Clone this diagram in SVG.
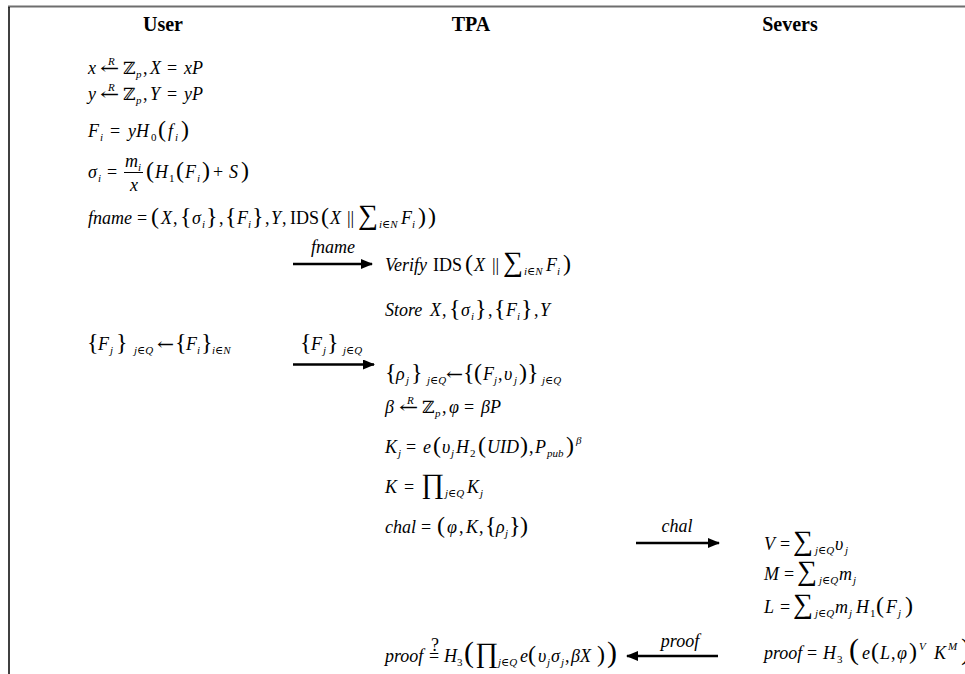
<svg xmlns="http://www.w3.org/2000/svg" width="965" height="674" viewBox="0 0 965 674">
<style>
text{font-family:"Liberation Serif","Times New Roman","DejaVu Serif",serif;font-size:18px;fill:#000}
.h{font-weight:bold;font-size:20px;text-anchor:middle}
.i{font-style:italic}
.sb{font-size:11px;baseline-shift:-4px}
.sp{font-size:11px;baseline-shift:9px}
.P{font-size:24px}
.PP{font-size:30px}
.S{font-size:28px}
.ar{font-family:"DejaVu Serif",serif;font-size:17px}
.z{font-family:"DejaVu Serif",serif;font-size:17px}
.lbl{font-style:italic;text-anchor:middle}
.arr{stroke:#000;stroke-width:2.5;fill:none}
</style>
<defs>
<marker id="ah" markerUnits="userSpaceOnUse" markerWidth="12" markerHeight="10" refX="11" refY="5" orient="auto">
<path d="M0,0 L12,5 L0,10 Z" fill="#000"/>
</marker>
</defs>
<rect width="965" height="674" fill="#fff"/>
<g id="frame">
<line x1="8" y1="6.5" x2="965" y2="6.5" stroke="#6e6e6e" stroke-width="2"/>
<line x1="9" y1="7" x2="9" y2="674" stroke="#000" stroke-width="1.5"/>
</g>
<g id="headers">
<text class="h" x="163" y="31">User</text>
<text class="h" x="471" y="31">TPA</text>
<text class="h" x="790" y="31">Severs</text>
</g>
<g id="user">
<text y="74"><tspan class="i" x="88">x</tspan><tspan class="sp i" x="108">R</tspan><tspan class="z" x="123">ℤ</tspan><tspan class="sb i" x="136">p</tspan><tspan x="143">,</tspan><tspan class="i" x="150">X</tspan><tspan x="167">=</tspan><tspan class="i" x="184">xP</tspan></text>
<text class="ar" transform="translate(100,74) scale(1.35,1)">←</text>
<text y="100"><tspan class="i" x="88">y</tspan><tspan class="sp i" x="108">R</tspan><tspan class="z" x="123">ℤ</tspan><tspan class="sb i" x="136">p</tspan><tspan x="143">,</tspan><tspan class="i" x="150">Y</tspan><tspan x="167">=</tspan><tspan class="i" x="184">yP</tspan></text>
<text class="ar" transform="translate(100,100) scale(1.35,1)">←</text>
<text y="137"><tspan class="i" x="88">F</tspan><tspan class="sb i" x="100">i</tspan><tspan x="110">=</tspan><tspan class="i" x="128">yH</tspan><tspan class="sb" x="151">0</tspan><tspan class="P" x="158">(</tspan><tspan class="i" x="168">f</tspan><tspan class="sb i" x="175">i</tspan><tspan class="P" x="181">)</tspan></text>
<text y="178"><tspan class="i" x="88">σ</tspan><tspan class="sb i" x="98">i</tspan><tspan x="107">=</tspan></text>
<text y="167"><tspan class="i" x="125">m</tspan><tspan class="sb i" x="138">i</tspan></text>
<line x1="124" y1="172.5" x2="143" y2="172.5" stroke="#000" stroke-width="1"/>
<text y="191" x="130" class="i">x</text>
<text y="178"><tspan class="P" x="146">(</tspan><tspan class="i" x="155">H</tspan><tspan class="sb" x="169">1</tspan><tspan class="P" x="176">(</tspan><tspan class="i" x="185">F</tspan><tspan class="sb i" x="197">i</tspan><tspan class="P" x="202">)</tspan><tspan x="213">+</tspan><tspan class="i" x="229">S</tspan><tspan class="P" x="241">)</tspan></text>
<text y="224"><tspan class="i" x="88">fname</tspan><tspan x="137">=</tspan><tspan class="P" x="151">(</tspan><tspan class="i" x="161">X</tspan><tspan x="173">,</tspan><tspan class="P" x="180">{</tspan><tspan class="i" x="192">σ</tspan><tspan class="sb i" x="202">i</tspan><tspan class="P" x="206">}</tspan><tspan x="219">,</tspan><tspan class="P" x="225">{</tspan><tspan class="i" x="237">F</tspan><tspan class="sb i" x="248">i</tspan><tspan class="P" x="252">}</tspan><tspan x="265">,</tspan><tspan class="i" x="271">Y</tspan><tspan x="282">,</tspan><tspan x="290">IDS</tspan><tspan class="P" x="321">(</tspan><tspan class="i" x="330">X</tspan><tspan x="347">||</tspan><tspan class="S" x="358">∑</tspan><tspan class="sb i" x="379">i∈N</tspan><tspan class="i" x="401">F</tspan><tspan class="sb i" x="412">i</tspan><tspan class="P" x="418">)</tspan><tspan class="P" x="428">)</tspan></text>
<text y="350"><tspan class="P" x="87">{</tspan><tspan class="i" x="98">F</tspan><tspan class="sb i" x="110">j</tspan><tspan class="P" x="116">}</tspan><tspan class="sb i" x="134">j∈Q</tspan><tspan class="P" x="175">{</tspan><tspan class="i" x="186">F</tspan><tspan class="sb i" x="197">i</tspan><tspan class="P" x="201">}</tspan><tspan class="sb i" x="212">i∈N</tspan></text>
<text class="ar" transform="translate(157,350) scale(1.2,1)">←</text>
</g>
<g id="tpa">
<text y="271"><tspan class="i" x="385">Verify</tspan><tspan x="433">IDS</tspan><tspan class="P" x="465">(</tspan><tspan class="i" x="474">X</tspan><tspan x="492">||</tspan><tspan class="S" x="503">∑</tspan><tspan class="sb i" x="524">i∈N</tspan><tspan class="i" x="546">F</tspan><tspan class="sb i" x="557">i</tspan><tspan class="P" x="563">)</tspan></text>
<text y="316"><tspan class="i" x="385">Store</tspan><tspan class="i" x="430">X</tspan><tspan x="442">,</tspan><tspan class="P" x="449">{</tspan><tspan class="i" x="461">σ</tspan><tspan class="sb i" x="471">i</tspan><tspan class="P" x="475">}</tspan><tspan x="488">,</tspan><tspan class="P" x="494">{</tspan><tspan class="i" x="506">F</tspan><tspan class="sb i" x="517">i</tspan><tspan class="P" x="521">}</tspan><tspan x="534">,</tspan><tspan class="i" x="540">Y</tspan></text>
<text y="380"><tspan class="P" x="385">{</tspan><tspan class="i" x="396">ρ</tspan><tspan class="sb i" x="406">j</tspan><tspan class="P" x="411">}</tspan><tspan class="sb i" x="427">j∈Q</tspan><tspan class="P" x="463">{</tspan><tspan class="P" x="474">(</tspan><tspan class="i" x="483">F</tspan><tspan class="sb i" x="494">j</tspan><tspan x="498">,</tspan><tspan class="i" x="504">υ</tspan><tspan class="sb i" x="514">j</tspan><tspan class="P" x="519">)</tspan><tspan class="P" x="527">}</tspan><tspan class="sb i" x="542">j∈Q</tspan></text>
<text class="ar" transform="translate(446,380) scale(1.2,1)">←</text>
<text y="413"><tspan class="i" x="385">β</tspan><tspan class="sp i" x="407">R</tspan><tspan class="z" x="422">ℤ</tspan><tspan class="sb i" x="435">p</tspan><tspan x="442">,</tspan><tspan class="i" x="449">φ</tspan><tspan x="464">=</tspan><tspan class="i" x="481">βP</tspan></text>
<text class="ar" transform="translate(399,413) scale(1.35,1)">←</text>
<text y="453"><tspan class="i" x="385">K</tspan><tspan class="sb i" x="398">j</tspan><tspan x="406">=</tspan><tspan class="i" x="423">e</tspan><tspan class="P" x="433">(</tspan><tspan class="i" x="442">υ</tspan><tspan class="sb i" x="451">j</tspan><tspan class="i" x="456">H</tspan><tspan class="sb" x="470">2</tspan><tspan class="P" x="478">(</tspan><tspan class="i" x="487">UID</tspan><tspan class="P" x="520">)</tspan><tspan x="529">,</tspan><tspan class="i" x="535">P</tspan><tspan class="sb i" x="547">pub</tspan><tspan class="P" x="566">)</tspan><tspan class="sp i" x="576">β</tspan></text>
<text y="493"><tspan class="i" x="385">K</tspan><tspan x="404">=</tspan><tspan class="S" x="421">∏</tspan><tspan class="sb i" x="445">j∈Q</tspan><tspan class="i" x="467">K</tspan><tspan class="sb i" x="480">j</tspan></text>
<text y="533"><tspan class="i" x="385">chal</tspan><tspan x="421">=</tspan><tspan class="P" x="437">(</tspan><tspan class="i" x="447">φ</tspan><tspan x="459">,</tspan><tspan class="i" x="466">K</tspan><tspan x="479">,</tspan><tspan class="P" x="485">{</tspan><tspan class="i" x="496">ρ</tspan><tspan class="sb i" x="505">j</tspan><tspan class="P" x="509">}</tspan><tspan class="P" x="520">)</tspan></text>
<text y="662"><tspan class="i" x="385">proof</tspan><tspan x="429">=</tspan><tspan class="i" x="444">H</tspan><tspan class="sb" x="457">3</tspan><tspan class="PP" x="464">(</tspan><tspan class="S" x="475">∏</tspan><tspan class="sb i" x="498">j∈Q</tspan><tspan class="i" x="520">e</tspan><tspan class="P" x="528">(</tspan><tspan class="i" x="538">υ</tspan><tspan class="sb i" x="547">j</tspan><tspan class="i" x="551">σ</tspan><tspan class="sb i" x="561">j</tspan><tspan x="565">,</tspan><tspan class="i" x="571">βX</tspan><tspan class="P" x="597">)</tspan><tspan class="PP" x="607">)</tspan></text>
<text x="431" y="651" font-size="11">?</text>
</g>
<g id="servers">
<text y="550"><tspan class="i" x="764">V</tspan><tspan x="780">=</tspan><tspan class="S" x="793">∑</tspan><tspan class="sb i" x="815">j∈Q</tspan><tspan class="i" x="835">υ</tspan><tspan class="sb i" x="845">j</tspan></text>
<text y="580"><tspan class="i" x="764">M</tspan><tspan x="784">=</tspan><tspan class="S" x="797">∑</tspan><tspan class="sb i" x="819">j∈Q</tspan><tspan class="i" x="839">m</tspan><tspan class="sb i" x="853">j</tspan></text>
<text y="613"><tspan class="i" x="764">L</tspan><tspan x="780">=</tspan><tspan class="S" x="793">∑</tspan><tspan class="sb i" x="815">j∈Q</tspan><tspan class="i" x="835">m</tspan><tspan class="sb i" x="849">j</tspan><tspan class="i" x="856">H</tspan><tspan class="sb" x="870">1</tspan><tspan class="P" x="876">(</tspan><tspan class="i" x="886">F</tspan><tspan class="sb i" x="898">j</tspan><tspan class="P" x="905">)</tspan></text>
<text y="659"><tspan class="i" x="764">proof</tspan><tspan x="807">=</tspan><tspan class="i" x="823">H</tspan><tspan class="sb" x="837">3</tspan><tspan class="PP" x="849">(</tspan><tspan class="i" x="862">e</tspan><tspan class="P" x="871">(</tspan><tspan class="i" x="880">L</tspan><tspan x="891">,</tspan><tspan class="i" x="897">φ</tspan><tspan class="P" x="909">)</tspan><tspan class="sp i" x="919">V</tspan><tspan class="i" x="934">K</tspan><tspan class="sp i" x="948">M</tspan><tspan class="PP" x="961">)</tspan></text>
</g>
<g id="connectors">
<line class="arr" x1="293" y1="264" x2="372" y2="264" marker-end="url(#ah)"/>
<text class="lbl" x="333" y="253">fname</text>
<line class="arr" x1="293" y1="364.5" x2="374" y2="364.5" marker-end="url(#ah)"/>
<text y="350"><tspan class="P" x="300">{</tspan><tspan class="i" x="311">F</tspan><tspan class="sb i" x="323">j</tspan><tspan class="P" x="327">}</tspan><tspan class="sb i" x="343">j∈Q</tspan></text>
<line class="arr" x1="636" y1="543" x2="719" y2="543" marker-end="url(#ah)"/>
<text class="lbl" x="677" y="532">chal</text>
<line class="arr" x1="718" y1="656" x2="627" y2="656" marker-end="url(#ah)"/>
<text class="lbl" x="680" y="647">proof</text>
</g>
</svg>
